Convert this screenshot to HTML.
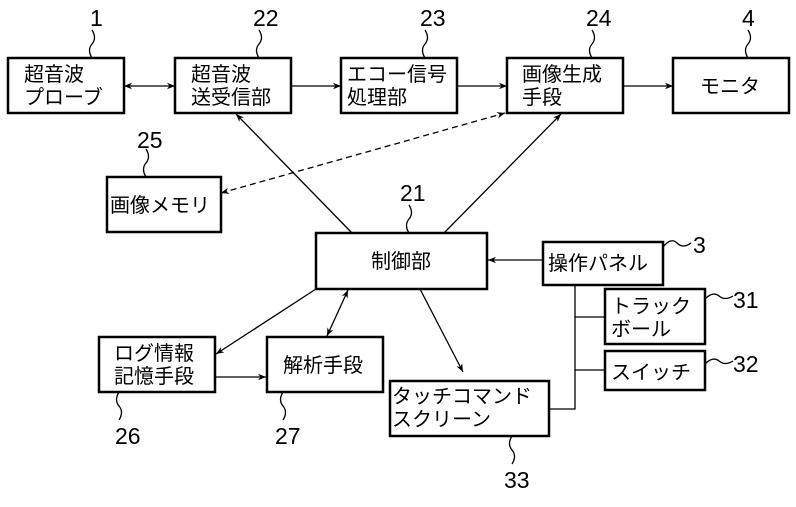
<!DOCTYPE html>
<html><head><meta charset="utf-8"><style>
body{margin:0;background:#fff}
svg text{font-family:"Liberation Sans","Noto Sans CJK JP",sans-serif;fill:#000}
.b{fill:#fff;stroke:#000;stroke-width:2.5}
.j{font-size:20px}
.n{font-size:23px}
</style></head><body>
<svg width="796" height="502" viewBox="0 0 796 502" xmlns="http://www.w3.org/2000/svg">
<defs><marker id="a" viewBox="0 0 10 10" refX="10" refY="5" markerWidth="10" markerHeight="8" orient="auto-start-reverse" markerUnits="userSpaceOnUse"><path d="M0,1 L10,5 L0,9 L3,5z" fill="#000"/></marker></defs>
<g stroke="#000" stroke-width="1.3" fill="none">
<line x1="124" y1="86" x2="175" y2="86" marker-start="url(#a)" marker-end="url(#a)"/>
<line x1="291" y1="86" x2="341" y2="86" marker-end="url(#a)"/>
<line x1="457" y1="86" x2="507" y2="86" marker-end="url(#a)"/>
<line x1="623" y1="86" x2="673" y2="86" marker-end="url(#a)"/>
<line x1="221" y1="193" x2="505" y2="113" stroke-dasharray="6,4" marker-start="url(#a)" marker-end="url(#a)"/>
<line x1="352" y1="233" x2="236" y2="114" marker-end="url(#a)"/>
<line x1="444" y1="233" x2="561" y2="114" marker-end="url(#a)"/>
<line x1="543" y1="260" x2="488" y2="260" marker-end="url(#a)"/>
<line x1="316" y1="289" x2="216" y2="354" marker-end="url(#a)"/>
<line x1="348" y1="290" x2="327" y2="336" marker-start="url(#a)" marker-end="url(#a)"/>
<line x1="420" y1="289" x2="463" y2="372" marker-end="url(#a)"/>
<line x1="215" y1="377" x2="266" y2="377" marker-end="url(#a)"/>
<polyline points="575,285 575,409 549,409"/>
<line x1="575" y1="317" x2="605" y2="317"/>
<line x1="575" y1="370" x2="605" y2="370"/>
<path d="M92,58 q-5,-8 0,-14 q5,-6 0,-14"/>
<path d="M259,58 q-5,-8 0,-14 q5,-6 0,-14"/>
<path d="M425,58 q-5,-8 0,-14 q5,-6 0,-14"/>
<path d="M592,58 q-5,-8 0,-14 q5,-6 0,-14"/>
<path d="M748,58 q-5,-8 0,-14 q5,-6 0,-14"/>
<path d="M146,177 q-5,-8 0,-14 q5,-6 0,-14"/>
<path d="M409,233 q-5,-8 0,-14 q5,-6 0,-14"/>
<path d="M663,247 q8,-10 14,-4 q6,6 14,0"/>
<path d="M705,299 q8,-8 14,-3 q6,5 14,0"/>
<path d="M705,364 q8,-8 14,-3 q6,5 14,0"/>
<path d="M119,392 q-5,8 0,14 q5,6 0,14"/>
<path d="M283,392 q-5,8 0,14 q5,6 0,14"/>
<path d="M512,436 q-5,8 0,14 q5,6 0,14"/>
</g>
<rect class="b" x="8" y="58" width="116" height="55"/>
<rect class="b" x="175" y="58" width="116" height="55"/>
<rect class="b" x="341" y="58" width="116" height="55"/>
<rect class="b" x="507" y="58" width="116" height="55"/>
<rect class="b" x="673" y="58" width="116" height="55"/>
<rect class="b" x="107" y="177" width="114" height="55"/>
<rect class="b" x="316" y="233" width="171" height="56"/>
<rect class="b" x="543" y="242" width="120" height="43"/>
<rect class="b" x="605" y="289" width="100" height="55"/>
<rect class="b" x="605" y="351" width="100" height="39"/>
<rect class="b" x="390" y="381" width="159" height="55"/>
<rect class="b" x="99" y="337" width="116" height="55"/>
<rect class="b" x="267" y="337" width="116" height="55"/>
<g class="j">
<text x="24" y="81">超音波</text><text x="24" y="104">プローブ</text>
<text x="191" y="81">超音波</text><text x="191" y="104">送受信部</text>
<text x="347" y="81">エコー信号</text><text x="347" y="104">処理部</text>
<text x="522" y="81">画像生成</text><text x="522" y="104">手段</text>
<text x="700" y="93">モニタ</text>
<text x="110" y="212">画像メモリ</text>
<text x="371" y="268">制御部</text>
<text x="548" y="270">操作パネル</text>
<text x="611" y="313">トラック</text><text x="611" y="336">ボール</text>
<text x="611" y="379">スイッチ</text>
<text x="392" y="403">タッチコマンド</text><text x="392" y="426">スクリーン</text>
<text x="114" y="360">ログ情報</text><text x="114" y="383">記憶手段</text>
<text x="283" y="372">解析手段</text>
</g>
<g class="n">
<text x="90" y="26">1</text>
<text x="253" y="26">22</text>
<text x="420" y="26">23</text>
<text x="586" y="26">24</text>
<text x="742" y="26">4</text>
<text x="137" y="148">25</text>
<text x="400" y="201">21</text>
<text x="693" y="253">3</text>
<text x="733" y="308">31</text>
<text x="733" y="372">32</text>
<text x="115" y="444">26</text>
<text x="275" y="444">27</text>
<text x="504" y="488">33</text>
</g>
</svg>
</body></html>
